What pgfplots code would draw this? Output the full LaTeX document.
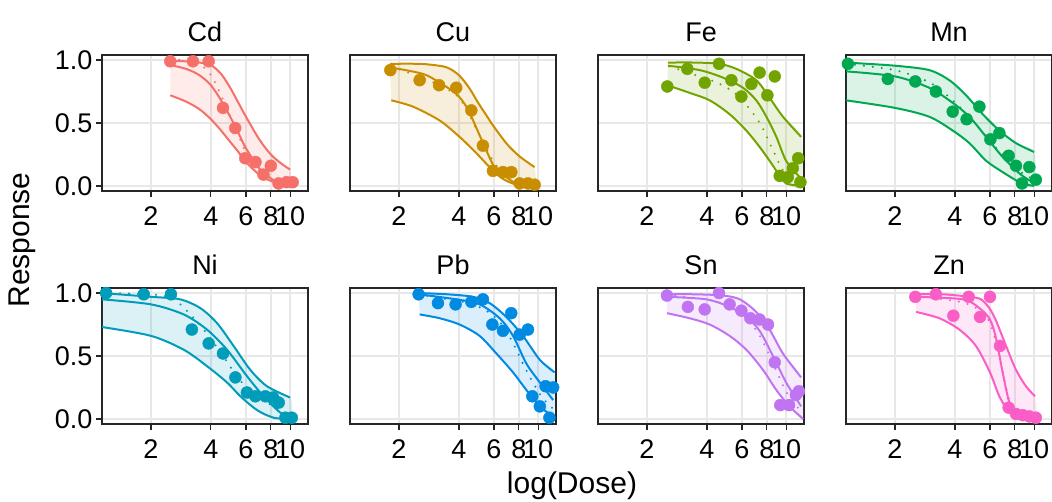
\documentclass[border=0pt]{standalone}
\usepackage{fontspec}
\setmainfont{Liberation Sans}
\usepackage{pgfplots}
\pgfplotsset{compat=1.18}
\definecolor{cd}{HTML}{F6706A}
\definecolor{cu}{HTML}{C98D00}
\definecolor{fe}{HTML}{72A400}
\definecolor{mn}{HTML}{00A852}
\definecolor{ni}{HTML}{009CBA}
\definecolor{pb}{HTML}{008AE2}
\definecolor{sn}{HTML}{C074F2}
\definecolor{zn}{HTML}{FA5EC6}
\newcommand\ticksize{\fontsize{27}{31}\selectfont}
\newcommand\labsize{\fontsize{30}{34}\selectfont}
\pgfplotsset{
 every axis/.append style={
  scale only axis, width=206pt, height=136pt,
  xmin=1.135, xmax=12.3, ymin=-0.04, ymax=1.04,
  xtick={2,4,6,8,10}, xticklabels={2,4,6,8,10},
  ytick={0,0.5,1}, yticklabels={0.0,0.5,1.0},
  tick pos=left,
  grid=major, major grid style={draw=black!9, line width=1.4pt},
  axis line style={draw=black!85, line width=1.2pt},
  tick style={draw=black!85, line width=1.2pt},
  tick align=outside, major tick length=6pt,
  ticklabel style={font=\ticksize},
  xticklabel style={yshift=-6pt},
  title style={at={(0.5,1)}, anchor=base, yshift=7pt, font=\ticksize},
 },
 mynoy/.style={yticklabels={}, ytick style={draw=none}},
}
\tikzset{
 mycl/.style={draw=#1, line width=2pt, smooth},
 mydl/.style={draw=#1, line width=2.3pt, smooth, dash pattern=on 0pt off 9pt, line cap=round},
 mypt/.style={draw=#1, fill=#1},
 myrb/.style={fill=#1, fill opacity=0.14, draw=none, smooth},
}
\begin{document}
\begin{tikzpicture}
\useasboundingbox (0pt,0pt) rectangle (1052pt,-502pt);
% ---------------- Cd
\begin{semilogxaxis}[at={(102pt,-55pt)}, anchor=north west, title={Cd}]
\addplot[myrb=cd] coordinates {(2.5,0.99)(3,0.99)(3.5,0.98)(4,0.96)(4.5,0.89)(5,0.78)(5.5,0.66)(6,0.55)(7,0.37)(8,0.25)(9,0.18)(10,0.13)
 (10,0.01)(9,0.02)(8,0.04)(7,0.09)(6,0.19)(5.5,0.27)(5,0.35)(4.5,0.44)(4,0.53)(3.5,0.61)(3,0.67)(2.5,0.72)};
\addplot[mycl=cd] coordinates {(2.5,0.99)(3,0.99)(3.5,0.98)(4,0.96)(4.5,0.89)(5,0.78)(5.5,0.66)(6,0.55)(7,0.37)(8,0.25)(9,0.18)(10,0.13)};
\addplot[mycl=cd] coordinates {(2.5,0.72)(3,0.67)(3.5,0.61)(4,0.53)(4.5,0.44)(5,0.35)(5.5,0.27)(6,0.19)(7,0.09)(8,0.04)(9,0.02)(10,0.01)};
\addplot[mycl=cd] coordinates {(2.5,0.96)(3,0.93)(3.5,0.88)(4,0.80)(4.5,0.68)(5,0.55)(5.5,0.42)(6,0.30)(7,0.14)(8,0.06)(9,0.02)(10,0.01)};
\addplot[mydl=cd] coordinates {(2.5,1.0)(3,1.0)(3.5,0.97)(4,0.88)(4.5,0.72)(5,0.55)(5.5,0.40)(6,0.27)(7,0.12)(8,0.05)(9,0.02)(10,0.01)};
\addplot[only marks, mark=*, mark size=6pt, mark options={mypt=cd}] coordinates {(2.5,0.99)(3.25,0.99)(3.9,0.99)(4.6,0.62)(5.3,0.46)(5.95,0.22)(6.7,0.19)(7.35,0.09)(8.0,0.16)(8.75,0.02)(9.6,0.03)(10.3,0.03)};
\end{semilogxaxis}
% ---------------- Cu
\begin{semilogxaxis}[mynoy, at={(350pt,-55pt)}, anchor=north west, title={Cu}]
\addplot[myrb=cu] coordinates {(1.8,0.97)(2.5,0.97)(3,0.96)(3.5,0.94)(4,0.88)(4.5,0.78)(5,0.66)(5.5,0.56)(6,0.47)(7,0.33)(8,0.24)(9,0.18)(9.6,0.15)
 (9.6,0.0)(7.8,0.01)(6.6,0.06)(5.7,0.15)(4.9,0.26)(4.03,0.39)(3.2,0.52)(2.35,0.63)(1.83,0.68)};
\addplot[mycl=cu] coordinates {(1.8,0.97)(2.5,0.97)(3,0.96)(3.5,0.94)(4,0.88)(4.5,0.78)(5,0.66)(5.5,0.56)(6,0.47)(7,0.33)(8,0.24)(9,0.18)(9.6,0.15)};
\addplot[mycl=cu] coordinates {(1.83,0.68)(2.35,0.63)(3.2,0.52)(4.03,0.39)(4.9,0.26)(5.7,0.15)(6.6,0.06)(7.8,0.01)(9.6,0.0)};
\addplot[mycl=cu] coordinates {(1.83,0.94)(2.64,0.89)(3.2,0.82)(3.89,0.73)(4.4,0.62)(4.9,0.46)(5.5,0.28)(6.1,0.14)(7.2,0.05)(8.1,0.01)(9.6,0.0)};
\addplot[mydl=cu] coordinates {(1.83,0.95)(2.6,0.86)(3.2,0.80)(3.9,0.72)(4.4,0.60)(4.9,0.45)(5.5,0.30)(6.1,0.17)(7.2,0.07)(8.1,0.03)(9.6,0.01)};
\addplot[only marks, mark=*, mark size=6pt, mark options={mypt=cu}] coordinates {(1.81,0.92)(2.54,0.84)(3.18,0.80)(3.88,0.78)(4.62,0.60)(5.28,0.32)(5.93,0.12)(6.66,0.11)(7.34,0.11)(8.08,0.02)(8.89,0.02)(9.61,0.01)};
\end{semilogxaxis}
% ---------------- Fe
\begin{semilogxaxis}[mynoy, at={(598pt,-55pt)}, anchor=north west, title={Fe}]
\addplot[myrb=fe] coordinates {(2.55,0.98)(3.5,0.98)(4.6,0.97)(5.62,0.93)(7.08,0.84)(8.26,0.70)(9.64,0.55)(11.9,0.39)
 (11.9,0.0)(10.0,0.02)(9.29,0.08)(8.43,0.18)(7.36,0.31)(6.31,0.44)(5.2,0.57)(4.13,0.68)(3.27,0.74)(2.53,0.80)};
\addplot[mycl=fe] coordinates {(2.55,0.98)(3.5,0.98)(4.6,0.97)(5.62,0.93)(7.08,0.84)(8.26,0.70)(9.64,0.55)(11.9,0.39)};
\addplot[mycl=fe] coordinates {(2.53,0.80)(3.27,0.74)(4.13,0.68)(5.2,0.57)(6.31,0.44)(7.36,0.31)(8.43,0.18)(9.29,0.08)(10.0,0.02)(11.9,0.0)};
\addplot[mycl=fe] coordinates {(2.55,0.955)(3.68,0.92)(4.82,0.86)(6.07,0.78)(7.08,0.68)(7.96,0.55)(8.93,0.39)(10.0,0.20)(11.7,0.07)};
\addplot[mydl=fe] coordinates {(2.6,0.95)(3.5,0.88)(4.5,0.82)(5.5,0.74)(6.5,0.62)(7.5,0.48)(8.5,0.30)(9.5,0.14)(10.5,0.05)(11.9,0.02)};
\addplot[only marks, mark=*, mark size=6pt, mark options={mypt=fe}] coordinates {(2.53,0.79)(3.19,0.93)(3.9,0.82)(4.6,0.97)(5.31,0.84)(5.96,0.71)(6.69,0.81)(7.36,0.90)(8.05,0.72)(8.77,0.87)(9.29,0.08)(10.2,0.07)(10.8,0.14)(11.5,0.22)(11.8,0.03)};
\end{semilogxaxis}
% ---------------- Mn
\begin{semilogxaxis}[mynoy, at={(846pt,-55pt)}, anchor=north west, title={Mn}]
\addplot[myrb=mn] coordinates {(1.135,0.98)(2.0,0.955)(2.97,0.92)(3.75,0.84)(4.55,0.72)(5.52,0.57)(6.69,0.44)(8.11,0.34)(10.0,0.27)
 (10.0,0.0)(8.6,0.02)(8.2,0.04)(6.95,0.11)(5.74,0.20)(4.73,0.34)(3.9,0.44)(2.97,0.55)(2.0,0.62)(1.135,0.68)};
\addplot[mycl=mn] coordinates {(1.135,0.98)(2.0,0.955)(2.97,0.92)(3.75,0.84)(4.55,0.72)(5.52,0.57)(6.69,0.44)(8.11,0.34)(10.0,0.27)};
\addplot[mycl=mn] coordinates {(1.135,0.68)(2.0,0.62)(2.97,0.55)(3.9,0.44)(4.73,0.34)(5.74,0.20)(6.95,0.11)(8.2,0.04)(8.6,0.02)(10.0,0.0)};
\addplot[mycl=mn] coordinates {(1.135,0.91)(2.0,0.87)(2.97,0.78)(3.9,0.66)(4.73,0.55)(5.74,0.39)(6.95,0.23)(8.43,0.10)(9.46,0.045)(10.2,0.02)};
\addplot[mydl=mn] coordinates {(1.135,0.97)(2,0.92)(3,0.82)(3.9,0.68)(4.7,0.55)(5.7,0.40)(7,0.24)(8.4,0.12)(10,0.05)};
\addplot[only marks, mark=*, mark size=6pt, mark options={mypt=mn}] coordinates {(1.16,0.97)(1.84,0.85)(2.53,0.83)(3.21,0.75)(3.9,0.59)(4.58,0.53)(5.31,0.63)(6.03,0.37)(6.69,0.42)(7.45,0.24)(8.11,0.16)(8.69,0.02)(9.46,0.15)(10.2,0.05)};
\end{semilogxaxis}
% ---------------- Ni
\begin{semilogxaxis}[at={(102pt,-288pt)}, anchor=north west, title={Ni}]
\addplot[myrb=ni] coordinates {(1.135,1.0)(2.0,0.97)(2.8,0.95)(3.54,0.88)(4.3,0.76)(5.2,0.58)(6.31,0.39)(7.65,0.26)(10.0,0.17)
 (10.0,0.0)(8.26,0.01)(6.83,0.07)(5.63,0.18)(4.82,0.29)(3.82,0.42)(2.92,0.55)(2.0,0.66)(1.135,0.73)};
\addplot[mycl=ni] coordinates {(1.135,1.0)(2.0,0.97)(2.8,0.95)(3.54,0.88)(4.3,0.76)(5.2,0.58)(6.31,0.39)(7.65,0.26)(10.0,0.17)};
\addplot[mycl=ni] coordinates {(1.135,0.73)(2.0,0.66)(2.92,0.55)(3.82,0.42)(4.82,0.29)(5.63,0.18)(6.83,0.07)(8.26,0.01)(10.0,0.0)};
\addplot[mycl=ni] coordinates {(1.135,0.95)(2.0,0.91)(2.92,0.83)(3.82,0.71)(4.82,0.55)(6.07,0.34)(7.36,0.18)(8.93,0.05)(10.0,0.01)};
\addplot[mydl=ni] coordinates {(1.135,1.0)(2,0.99)(2.6,0.95)(3.2,0.82)(3.9,0.66)(4.6,0.50)(5.3,0.36)(6.1,0.24)(7.5,0.14)(8.8,0.07)(10,0.02)};
\addplot[only marks, mark=*, mark size=6pt, mark options={mypt=ni}] coordinates {(1.19,1.0)(1.84,0.99)(2.52,0.99)(3.21,0.71)(3.9,0.60)(4.6,0.52)(5.31,0.33)(6.07,0.21)(6.69,0.18)(7.51,0.18)(8.21,0.17)(8.77,0.13)(9.47,0.01)(10.2,0.01)};
\end{semilogxaxis}
% ---------------- Pb
\begin{semilogxaxis}[mynoy, at={(350pt,-288pt)}, anchor=north west, title={Pb}]
\addplot[myrb=pb] coordinates {(2.51,1.0)(3.5,0.99)(4.71,0.97)(5.71,0.92)(6.92,0.81)(8.39,0.66)(10.2,0.47)(12.1,0.37)
 (11.9,0.02)(10.2,0.10)(8.73,0.23)(7.48,0.37)(6.17,0.52)(5.08,0.66)(4.03,0.75)(3.2,0.80)(2.54,0.83)};
\addplot[mycl=pb] coordinates {(2.51,1.0)(3.5,0.99)(4.71,0.97)(5.71,0.92)(6.92,0.81)(8.39,0.66)(10.2,0.47)(12.1,0.37)};
\addplot[mycl=pb] coordinates {(2.54,0.83)(3.2,0.80)(4.03,0.75)(5.08,0.66)(6.17,0.52)(7.48,0.37)(8.73,0.23)(10.2,0.10)(11.9,0.02)};
\addplot[mycl=pb] coordinates {(2.51,0.99)(3.88,0.95)(5.08,0.91)(6.41,0.80)(7.48,0.66)(8.73,0.44)(10.2,0.29)(11.9,0.15)};
\addplot[mydl=pb] coordinates {(2.5,0.99)(3.5,0.95)(4.5,0.92)(5.5,0.86)(6.5,0.76)(7.5,0.60)(8.5,0.42)(9.5,0.28)(10.5,0.17)(11.9,0.08)};
\addplot[only marks, mark=*, mark size=6pt, mark options={mypt=pb}] coordinates {(2.51,0.99)(3.14,0.92)(3.85,0.91)(4.62,0.93)(5.28,0.95)(5.89,0.75)(6.66,0.70)(7.33,0.84)(8.08,0.67)(8.89,0.71)(9.35,0.18)(10.2,0.10)(10.9,0.26)(11.4,0.01)(11.9,0.25)};
\end{semilogxaxis}
% ---------------- Sn
\begin{semilogxaxis}[mynoy, at={(598pt,-288pt)}, anchor=north west, title={Sn}]
\addplot[myrb=sn] coordinates {(2.52,0.99)(3.5,0.99)(4.82,0.98)(5.85,0.95)(7.08,0.85)(8.26,0.71)(9.64,0.52)(11.9,0.33)
 (12.2,0.0)(10.4,0.10)(8.93,0.23)(7.65,0.39)(6.31,0.55)(5.2,0.66)(4.13,0.75)(3.27,0.80)(2.52,0.84)};
\addplot[mycl=sn] coordinates {(2.52,0.99)(3.5,0.99)(4.82,0.98)(5.85,0.95)(7.08,0.85)(8.26,0.71)(9.64,0.52)(11.9,0.33)};
\addplot[mycl=sn] coordinates {(2.52,0.84)(3.27,0.80)(4.13,0.75)(5.2,0.66)(6.31,0.55)(7.65,0.39)(8.93,0.23)(10.4,0.10)(12.2,0.0)};
\addplot[mycl=sn] coordinates {(2.52,0.97)(3.97,0.95)(5.2,0.89)(6.31,0.81)(7.36,0.70)(8.59,0.50)(10.0,0.29)(11.9,0.10)};
\addplot[mydl=sn] coordinates {(2.5,0.99)(3.5,0.96)(4.5,0.93)(5.5,0.87)(6.5,0.78)(7.5,0.64)(8.5,0.46)(9.5,0.29)(10.5,0.16)(11.8,0.07)};
\addplot[only marks, mark=*, mark size=6pt, mark options={mypt=sn}] coordinates {(2.52,0.98)(3.21,0.89)(3.9,0.87)(4.6,1.0)(5.2,0.91)(5.96,0.86)(6.61,0.80)(7.36,0.79)(8.11,0.75)(8.77,0.45)(9.35,0.11)(10.35,0.11)(11.2,0.19)(11.6,0.22)};
\end{semilogxaxis}
% ---------------- Zn
\begin{semilogxaxis}[mynoy, at={(846pt,-288pt)}, anchor=north west, title={Zn}]
\addplot[myrb=zn] coordinates {(2.53,0.99)(3.5,0.99)(4.73,0.97)(5.41,0.95)(5.96,0.88)(6.44,0.78)(7.23,0.58)(8.11,0.39)(9.1,0.26)(10.1,0.18)
 (10.2,0.0)(8.43,0.01)(7.51,0.05)(6.69,0.18)(6.0,0.37)(5.1,0.58)(4.21,0.71)(3.34,0.80)(2.55,0.85)};
\addplot[mycl=zn] coordinates {(2.53,0.99)(3.5,0.99)(4.73,0.97)(5.41,0.95)(5.96,0.88)(6.44,0.78)(7.23,0.58)(8.11,0.39)(9.1,0.26)(10.1,0.18)};
\addplot[mycl=zn] coordinates {(2.55,0.85)(3.34,0.80)(4.21,0.71)(5.1,0.58)(6.0,0.37)(6.69,0.18)(7.51,0.05)(8.43,0.01)(10.2,0.0)};
\addplot[mycl=zn] coordinates {(2.53,0.97)(4.38,0.95)(5.31,0.88)(6.0,0.79)(6.44,0.64)(6.95,0.37)(7.51,0.13)(8.11,0.05)(9.46,0.01)(10.2,0.0)};
\addplot[mydl=zn] coordinates {(2.5,0.98)(3.5,0.95)(4.5,0.92)(5.5,0.85)(6.0,0.76)(6.5,0.58)(7.0,0.35)(7.5,0.15)(8,0.06)(9,0.02)(10,0.01)};
\addplot[only marks, mark=*, mark size=6pt, mark options={mypt=zn}] coordinates {(2.53,0.97)(3.21,0.99)(3.93,0.82)(4.69,0.97)(5.35,0.81)(6.0,0.97)(6.74,0.58)(7.45,0.09)(8.11,0.04)(8.77,0.03)(9.46,0.02)(10.2,0.01)};
\end{semilogxaxis}
\node[rotate=90, font=\labsize] at (22pt,-240pt) {Response};
\node[anchor=base, font=\labsize] at (572pt,-493pt) {log(Dose)};
\end{tikzpicture}
\end{document}
